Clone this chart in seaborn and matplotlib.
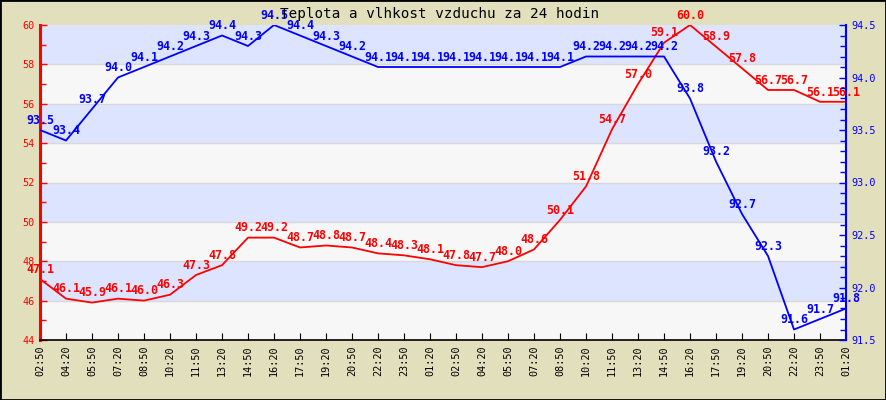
import numpy as np
import pandas as pd
import matplotlib
matplotlib.use("Agg")
import matplotlib.pyplot as plt
from matplotlib.ticker import MultipleLocator, FormatStrFormatter
from matplotlib.patches import Rectangle
import seaborn as sns

# Data (one value every 1.5 h)
times = ["02:50", "04:20", "05:50", "07:20", "08:50", "10:20", "11:50", "13:20",
         "14:50", "16:20", "17:50", "19:20", "20:50", "22:20", "23:50", "01:20",
         "02:50", "04:20", "05:50", "07:20", "08:50", "10:20", "11:50", "13:20",
         "14:50", "16:20", "17:50", "19:20", "20:50", "22:20", "23:50", "01:20"]
teplota = [47.1, 46.1, 45.9, 46.1, 46.0, 46.3, 47.3, 47.8, 49.2, 49.2, 48.7, 48.8,
           48.7, 48.4, 48.3, 48.1, 47.8, 47.7, 48.0, 48.6, 50.1, 51.8, 54.7, 57.0,
           59.1, 60.0, 58.9, 57.8, 56.7, 56.7, 56.1, 56.1]
vlhkost = [93.5, 93.4, 93.7, 94.0, 94.1, 94.2, 94.3, 94.4, 94.3, 94.5, 94.4, 94.3,
           94.2, 94.1, 94.1, 94.1, 94.1, 94.1, 94.1, 94.1, 94.1, 94.2, 94.2, 94.2,
           94.2, 93.8, 93.2, 92.7, 92.3, 91.6, 91.7, 91.8]

df = pd.DataFrame({"pos": np.arange(len(times)), "cas": times,
                   "teplota": teplota, "vlhkost": vlhkost})

plt.rcParams["font.family"] = ["DejaVu Sans Mono"]

bg = "#E2DFBC"
band_blue = "#DDE4FF"
band_grey = "#F7F7F7"

fig = plt.figure(figsize=(8.86, 4.0), dpi=100, facecolor=bg)
ax = fig.add_axes([40 / 886, 60 / 400, 806 / 886, 315 / 400])
ax.set_facecolor(band_grey)

# alternating bands + grid
for lo in range(44, 60, 2):
    col = band_blue if ((lo - 44) // 2) % 2 == 1 else band_grey
    ax.axhspan(lo, lo + 2, color=col, zorder=0, lw=0)
for y in range(46, 60, 2):
    ax.axhline(y, color="#D8D8D8", lw=1, zorder=0.5)

sns.lineplot(data=df, x="pos", y="teplota", ax=ax, color="red", linewidth=1.3, zorder=3)
ax.set_ylim(44, 60)
ax.set_xlim(0, len(times) - 1)

ax2 = ax.twinx()
sns.lineplot(data=df, x="pos", y="vlhkost", ax=ax2, color="blue", linewidth=1.3, zorder=3)
ax2.set_ylim(91.5, 94.5)

# value labels
for i, v in enumerate(teplota):
    ax.annotate(f"{v:.1f}", (i, v), xytext=(0, 7), textcoords="offset points",
                ha="center", va="center", color="red", fontsize=8.4, fontweight="bold")
for i, v in enumerate(vlhkost):
    ax2.annotate(f"{v:.1f}", (i, v), xytext=(0, 7), textcoords="offset points",
                 ha="center", va="center", color="blue", fontsize=8.4, fontweight="bold")

# axes styling
ax.set_xticks(df["pos"])
ax.set_xticklabels(times, rotation=90, fontsize=7.3)
ax.tick_params(axis="x", direction="in", length=5, color="black", pad=4)
ax.set_yticks(range(44, 61, 2))
ax.yaxis.set_minor_locator(MultipleLocator(1))
ax.tick_params(axis="y", which="both", direction="in", colors="red", labelsize=7.3, pad=4)
ax.tick_params(axis="y", which="major", length=5, width=1)
ax.tick_params(axis="y", which="minor", length=4, width=1)
ax.set_xlabel("")
ax.set_ylabel("")
ax.spines["top"].set_visible(False)
ax.spines["right"].set_visible(False)
ax.spines["left"].set_color("red")
ax.spines["left"].set_linewidth(2.2)
ax.spines["bottom"].set_color("black")
ax.spines["bottom"].set_linewidth(1.2)

ax2.set_yticks(np.arange(91.5, 94.51, 0.5))
ax2.yaxis.set_major_formatter(FormatStrFormatter("%.1f"))
ax2.yaxis.set_minor_locator(MultipleLocator(0.1))
ax2.tick_params(axis="y", which="both", direction="in", colors="blue", labelsize=7.3, pad=4)
ax2.tick_params(axis="y", which="major", length=5, width=1)
ax2.tick_params(axis="y", which="minor", length=4, width=1)
ax2.set_ylabel("")
for s in ["top", "left", "bottom"]:
    ax2.spines[s].set_visible(False)
ax2.spines["right"].set_color("blue")
ax2.spines["right"].set_linewidth(1.5)

fig.text(440 / 886, 1 - 14 / 400, "Teplota a vlhkost vzduchu za 24 hodin",
         ha="center", va="center", fontsize=10.3, color="black")

fig.patches.append(Rectangle((0, 0), 1, 1, transform=fig.transFigure, fill=False,
                             edgecolor="black", lw=2, zorder=10))

fig.savefig("out.png", dpi=100, facecolor=bg)
